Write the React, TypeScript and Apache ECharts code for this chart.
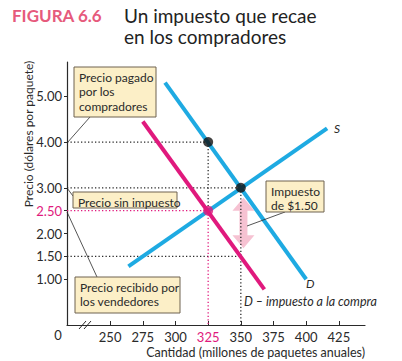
import React, { useEffect, useRef } from "react";
import * as echarts from "echarts";

const quantityTicks = [250, 275, 300, 325, 350, 375, 400, 425];
const priceTicks = [1, 1.5, 2, 2.5, 3, 4, 5];
const supplyLine = [[264, 1.28], [416, 4.3]];
const demandLine = [[292, 5.3], [400, 1.0]];
const demandTaxLine = [[275, 4.45], [368, 0.78]];
const blackPoints = [[325, 4.0], [350, 3.0]];
const pinkPoints = [[325, 2.5]];
const taxArrow = [[352, 2.78, 1.68]];

const PINK = "#e0197d";
const BLUE = "#1eaae2";
const INK = "#2a2a2a";
const BOX_FILL = "#fcefc7";
const BOX_STROKE = "#6e6350";
const FONT = "Lato";

function box(x: number, y: number, w: number, h: number, text: string) {
  return {
    type: "group",
    children: [
      { type: "rect", shape: { x, y, width: w, height: h }, style: { fill: BOX_FILL, stroke: BOX_STROKE, lineWidth: 1 }, z: 10 },
      { type: "text", x: x + 5, y: y + 3, style: { text, font: `12px ${FONT}`, fill: INK, lineHeight: 14.5 }, z: 11 },
    ],
  };
}

function leader(x1: number, y1: number, x2: number, y2: number) {
  return { type: "line", shape: { x1, y1, x2, y2 }, style: { stroke: INK, lineWidth: 0.8 }, z: 9 };
}

export default function App() {
  const ref = useRef<HTMLDivElement>(null);
  useEffect(() => {
    document.body.style.margin = "0";
    const chart = echarts.init(ref.current!, null, { renderer: "svg" });
    const dotted = (data: number[][], color = INK) => ({
      type: "line",
      data,
      symbol: "none",
      silent: true,
      lineStyle: { color, width: 1.3, type: [1.3, 2.2] },
      z: 2,
    });
    chart.setOption({
      animation: false,
      grid: { left: 67, right: 37, top: 62, bottom: 36 },
      xAxis: {
        type: "value",
        min: 217,
        max: 445,
        splitLine: { show: false },
        axisLine: { lineStyle: { color: INK, width: 1.2 } },
        axisTick: { inside: true, length: 4, customValues: quantityTicks, lineStyle: { color: INK } },
        axisLabel: {
          customValues: quantityTicks,
          margin: 5,
          fontFamily: FONT,
          fontSize: 13,
          color: (v: any) => (Number(v) === 325 ? PINK : INK),
        },
      },
      yAxis: {
        type: "value",
        min: 0,
        max: 5.75,
        splitLine: { show: false },
        axisLine: { show: true, lineStyle: { color: INK, width: 1.2 } },
        axisTick: { show: true, length: 3, customValues: priceTicks, lineStyle: { color: INK } },
        axisLabel: {
          customValues: priceTicks,
          margin: 5,
          fontFamily: FONT,
          fontSize: 13,
          formatter: (v: number) => v.toFixed(2),
          color: (v: any) => (Number(v) === 2.5 ? PINK : INK),
        },
      },
      series: [
        dotted([[217, 4], [325, 4]]),
        dotted([[217, 3], [350, 3]]),
        dotted([[217, 1.5], [350, 1.5]]),
        dotted([[325, 4], [325, 2.5]]),
        dotted([[350, 3], [350, 0]]),
        dotted([[217, 2.5], [325, 2.5]], PINK),
        dotted([[325, 2.5], [325, 0]], PINK),
        {
          type: "custom",
          data: taxArrow,
          silent: true,
          z: 1,
          renderItem: (params: any, api: any) => {
            const top = api.coord([api.value(0), api.value(1)]);
            const bot = api.coord([api.value(0), api.value(2)]);
            const cx = top[0];
            const t = top[1];
            const b = bot[1];
            const hh = 13, hw = 11, sw = 4;
            return {
              type: "polygon",
              shape: {
                points: [
                  [cx, t], [cx + hw, t + hh], [cx + sw, t + hh], [cx + sw, b - hh], [cx + hw, b - hh],
                  [cx, b], [cx - hw, b - hh], [cx - sw, b - hh], [cx - sw, t + hh], [cx - hw, t + hh],
                ],
              },
              style: { fill: "#f5bfd0", opacity: 0.95 },
            };
          },
        },
        { type: "line", data: supplyLine, symbol: "none", lineStyle: { color: BLUE, width: 4 }, z: 3 },
        { type: "line", data: demandLine, symbol: "none", lineStyle: { color: BLUE, width: 4 }, z: 3 },
        { type: "line", data: demandTaxLine, symbol: "none", lineStyle: { color: PINK, width: 4 }, z: 3 },
        { type: "scatter", data: blackPoints, symbolSize: 10, itemStyle: { color: "#111" }, z: 5 },
        { type: "scatter", data: pinkPoints, symbolSize: 10, itemStyle: { color: PINK }, z: 5 },
      ],
      graphic: [
        { type: "text", x: 12, y: 15, style: { text: "FIGURA 6.6", font: `bold 17px ${FONT}`, fill: "#e65a7c", verticalAlign: "middle" } },
        { type: "text", x: 124, y: 15, style: { text: "Un impuesto que recae", font: `19px ${FONT}`, fill: "#222", verticalAlign: "middle" } },
        { type: "text", x: 124, y: 36, style: { text: "en los compradores", font: `19px ${FONT}`, fill: "#222", verticalAlign: "middle" } },
        {
          type: "text", x: 28, y: 134, rotation: Math.PI / 2,
          style: { text: "Precio (dólares por paquete)", font: `12px ${FONT}`, fill: INK, align: "center", verticalAlign: "middle" },
        },
        { type: "text", x: 365, y: 352, style: { text: "Cantidad (millones de paquetes anuales)", font: `12.5px ${FONT}`, fill: INK, align: "right", verticalAlign: "middle" } },
        { type: "text", x: 58, y: 335, style: { text: "0", font: `13px ${FONT}`, fill: INK, align: "center", verticalAlign: "middle" } },
        { type: "line", shape: { x1: 79, y1: 329, x2: 86, y2: 321 }, style: { stroke: INK, lineWidth: 1 } },
        { type: "line", shape: { x1: 84, y1: 329, x2: 91, y2: 321 }, style: { stroke: INK, lineWidth: 1 } },
        { type: "text", x: 334, y: 128, style: { text: "S", font: `italic 12px ${FONT}`, fill: INK, verticalAlign: "middle" } },
        { type: "text", x: 306, y: 283, style: { text: "D", font: `italic 12px ${FONT}`, fill: INK, verticalAlign: "middle" } },
        { type: "text", x: 244, y: 301, style: { text: "D – impuesto a la compra", font: `italic 12.5px ${FONT}`, fill: INK, verticalAlign: "middle" } },
        leader(90, 117, 67, 143),
        leader(67, 188, 73, 196),
        leader(67, 212, 97, 277),
        leader(285, 212, 247, 226),
        box(74, 67, 82, 50, "Precio pagado\npor los\ncompradores"),
        box(73, 192, 104, 16, "Precio sin impuesto"),
        box(75, 277, 105, 36, "Precio recibido por\nlos vendedores"),
        box(266, 181, 58, 31, "Impuesto\nde $1.50"),
      ],
    });
    return () => chart.dispose();
  }, []);
  return <div ref={ref} style={{ width: 402, height: 361 }} />;
}
